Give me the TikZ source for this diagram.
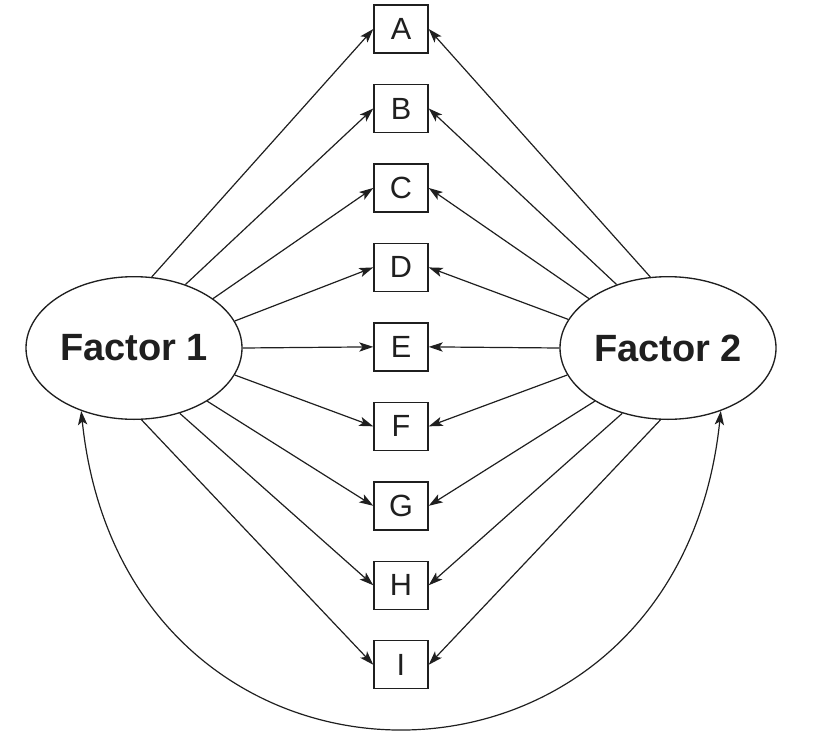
\documentclass[tikz,border=0pt]{standalone}
\usepackage{fontspec}
\setmainfont{Liberation Sans}
\usepackage{tikz}
\usetikzlibrary{arrows.meta, shapes.geometric}
\tikzstyle{factor} = [ellipse, draw, line width=1pt, minimum width=162pt, minimum height=107pt, inner sep=0pt, font=\bfseries\fontsize{28.5}{30}\selectfont]
\tikzstyle{item} = [rectangle, draw, line width=1.1pt, minimum width=40.5pt, minimum height=36pt, inner sep=0pt, font=\fontsize{23}{25}\selectfont]
\tikzstyle{load} = [-{Stealth[length=10.5pt, width=7pt, inset=2.5pt]}, line width=0.9pt]
\tikzstyle{covar} = [{Stealth[length=10.5pt, width=7pt, inset=2.5pt]}-{Stealth[length=10.5pt, width=7pt, inset=2.5pt]}, line width=0.9pt]

\begin{document}
\begin{tikzpicture}[x=0.75pt, y=-0.75pt, node distance=59.6pt, color=black!88]
        \useasboundingbox (0,0) rectangle (827,746);
        \node (F1) [factor] at (134,348) {Factor 1};
        \node (F2) [factor] at (668,348) {Factor 2};
        \node (A) [item] at (401,29) {A};
        \node (B) [item, below of=A] {B};
        \node (C) [item, below of=B] {C};
        \node (D) [item, below of=C] {D};
        \node (E) [item, below of=D] {E};
        \node (F) [item, below of=E] {F};
        \node (G) [item, below of=F] {G};
        \node (H) [item, below of=G] {H};
        \node (I) [item, below of=H] {I};
        \draw [load] (F1.76) -- (A.west);
        \draw [load] (F1.51) -- (B.west);
        \draw [load] (F1.32) -- (C.west);
        \draw [load] (F1.15.5) -- (D.west);
        \draw [load] (F1.east) -- (E.west);
        \draw [load] (F1.-15.5) -- (F.west);
        \draw [load] (F1.-36) -- (G.west);
        \draw [load] (F1.-55) -- (H.west);
        \draw [load] (F1.-84) -- (I.west);
        \draw [load] (F2.104) -- (A.east);
        \draw [load] (F2.129) -- (B.east);
        \draw [load] (F2.148) -- (C.east);
        \draw [load] (F2.164.5) -- (D.east);
        \draw [load] (F2.west) -- (E.east);
        \draw [load] (F2.195.5) -- (F.east);
        \draw [load] (F2.216) -- (G.east);
        \draw [load] (F2.235) -- (H.east);
        \draw [load] (F2.264) -- (I.east);
        \draw [covar] (F1.230) .. controls (125,833) and (677,833) .. (F2.310);
    \end{tikzpicture}
\end{document}
